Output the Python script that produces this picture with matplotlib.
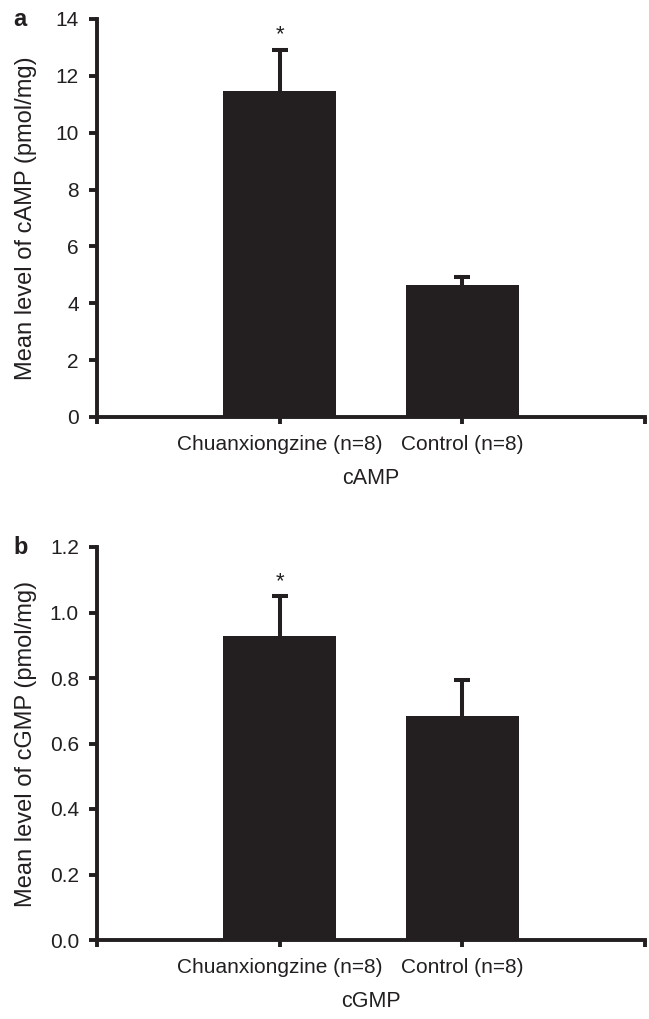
import numpy as np
import matplotlib
matplotlib.use("Agg")
import matplotlib.pyplot as plt
from matplotlib.ticker import FormatStrFormatter

# data
groups = ["Chuanxiongzine (n=8)", "Control (n=8)"]
camp_mean = [11.45, 4.65]
camp_err = [1.47, 0.28]
cgmp_mean = [0.928, 0.683]
cgmp_err = [0.122, 0.110]
camp_ticks = [0, 2, 4, 6, 8, 10, 12, 14]
cgmp_ticks = [0.0, 0.2, 0.4, 0.6, 0.8, 1.0, 1.2]
signif = [True, False]

ink = "#231f20"
plt.rcParams["font.family"] = ["Liberation Sans", "DejaVu Sans"]
plt.rcParams["text.color"] = ink

W, H = 649, 1019
fig = plt.figure(figsize=(W / 100, H / 100), dpi=100)

def px_axes(left, right, top, bottom):
    return fig.add_axes([left / W, 1 - bottom / H, (right - left) / W, (bottom - top) / H])

def panel(ax, means, errs, yticks, ylabel, xlabel, letter, fmt):
    x = np.arange(1, len(means) + 1)
    # bars drawn over the error bars so only the upper half shows
    ax.bar(x, means, width=0.62, color=ink, zorder=3)
    ax.errorbar(x, means, yerr=errs, fmt="none", ecolor=ink,
                elinewidth=2.9, capsize=5.8, capthick=2.9, zorder=2)
    for xi, m, e, s in zip(x, means, errs, signif):
        if s:
            ax.annotate("*", (xi, m + e), xytext=(0, 3), textcoords="offset points",
                        ha="center", va="bottom", fontsize=16, color=ink)
    ax.set_xlim(0, len(means) + 1)
    ax.set_ylim(yticks[0], yticks[-1])
    ax.set_xticks(np.arange(0, len(means) + 2))
    ax.set_xticklabels([""] + groups + [""])
    ax.set_yticks(yticks)
    ax.yaxis.set_major_formatter(FormatStrFormatter(fmt))
    for sp in ["top", "right"]:
        ax.spines[sp].set_visible(False)
    for sp in ["left", "bottom"]:
        ax.spines[sp].set_linewidth(2.8)
        ax.spines[sp].set_color(ink)
    ax.tick_params(axis="y", length=6, width=2.8, pad=7, labelsize=15, colors=ink)
    ax.tick_params(axis="x", length=5, width=2.8, pad=8, labelsize=15, colors=ink)
    ax.set_ylabel(ylabel, fontsize=17, color=ink)
    ax.yaxis.set_label_coords(-0.11, 0.5)
    ax.set_xlabel(xlabel, fontsize=15.5, color=ink, labelpad=10)
    ax.text(-0.153, 1.0, letter, transform=ax.transAxes, fontsize=17,
            fontweight="bold", ha="left", va="center", color=ink)

ax1 = px_axes(97, 645, 19, 417)
panel(ax1, camp_mean, camp_err, camp_ticks, "Mean level of cAMP (pmol/mg)", "cAMP", "a", "%d")

ax2 = px_axes(97, 645, 547, 940)
panel(ax2, cgmp_mean, cgmp_err, cgmp_ticks, "Mean level of cGMP (pmol/mg)", "cGMP", "b", "%.1f")

fig.savefig("out.png", dpi=100)
